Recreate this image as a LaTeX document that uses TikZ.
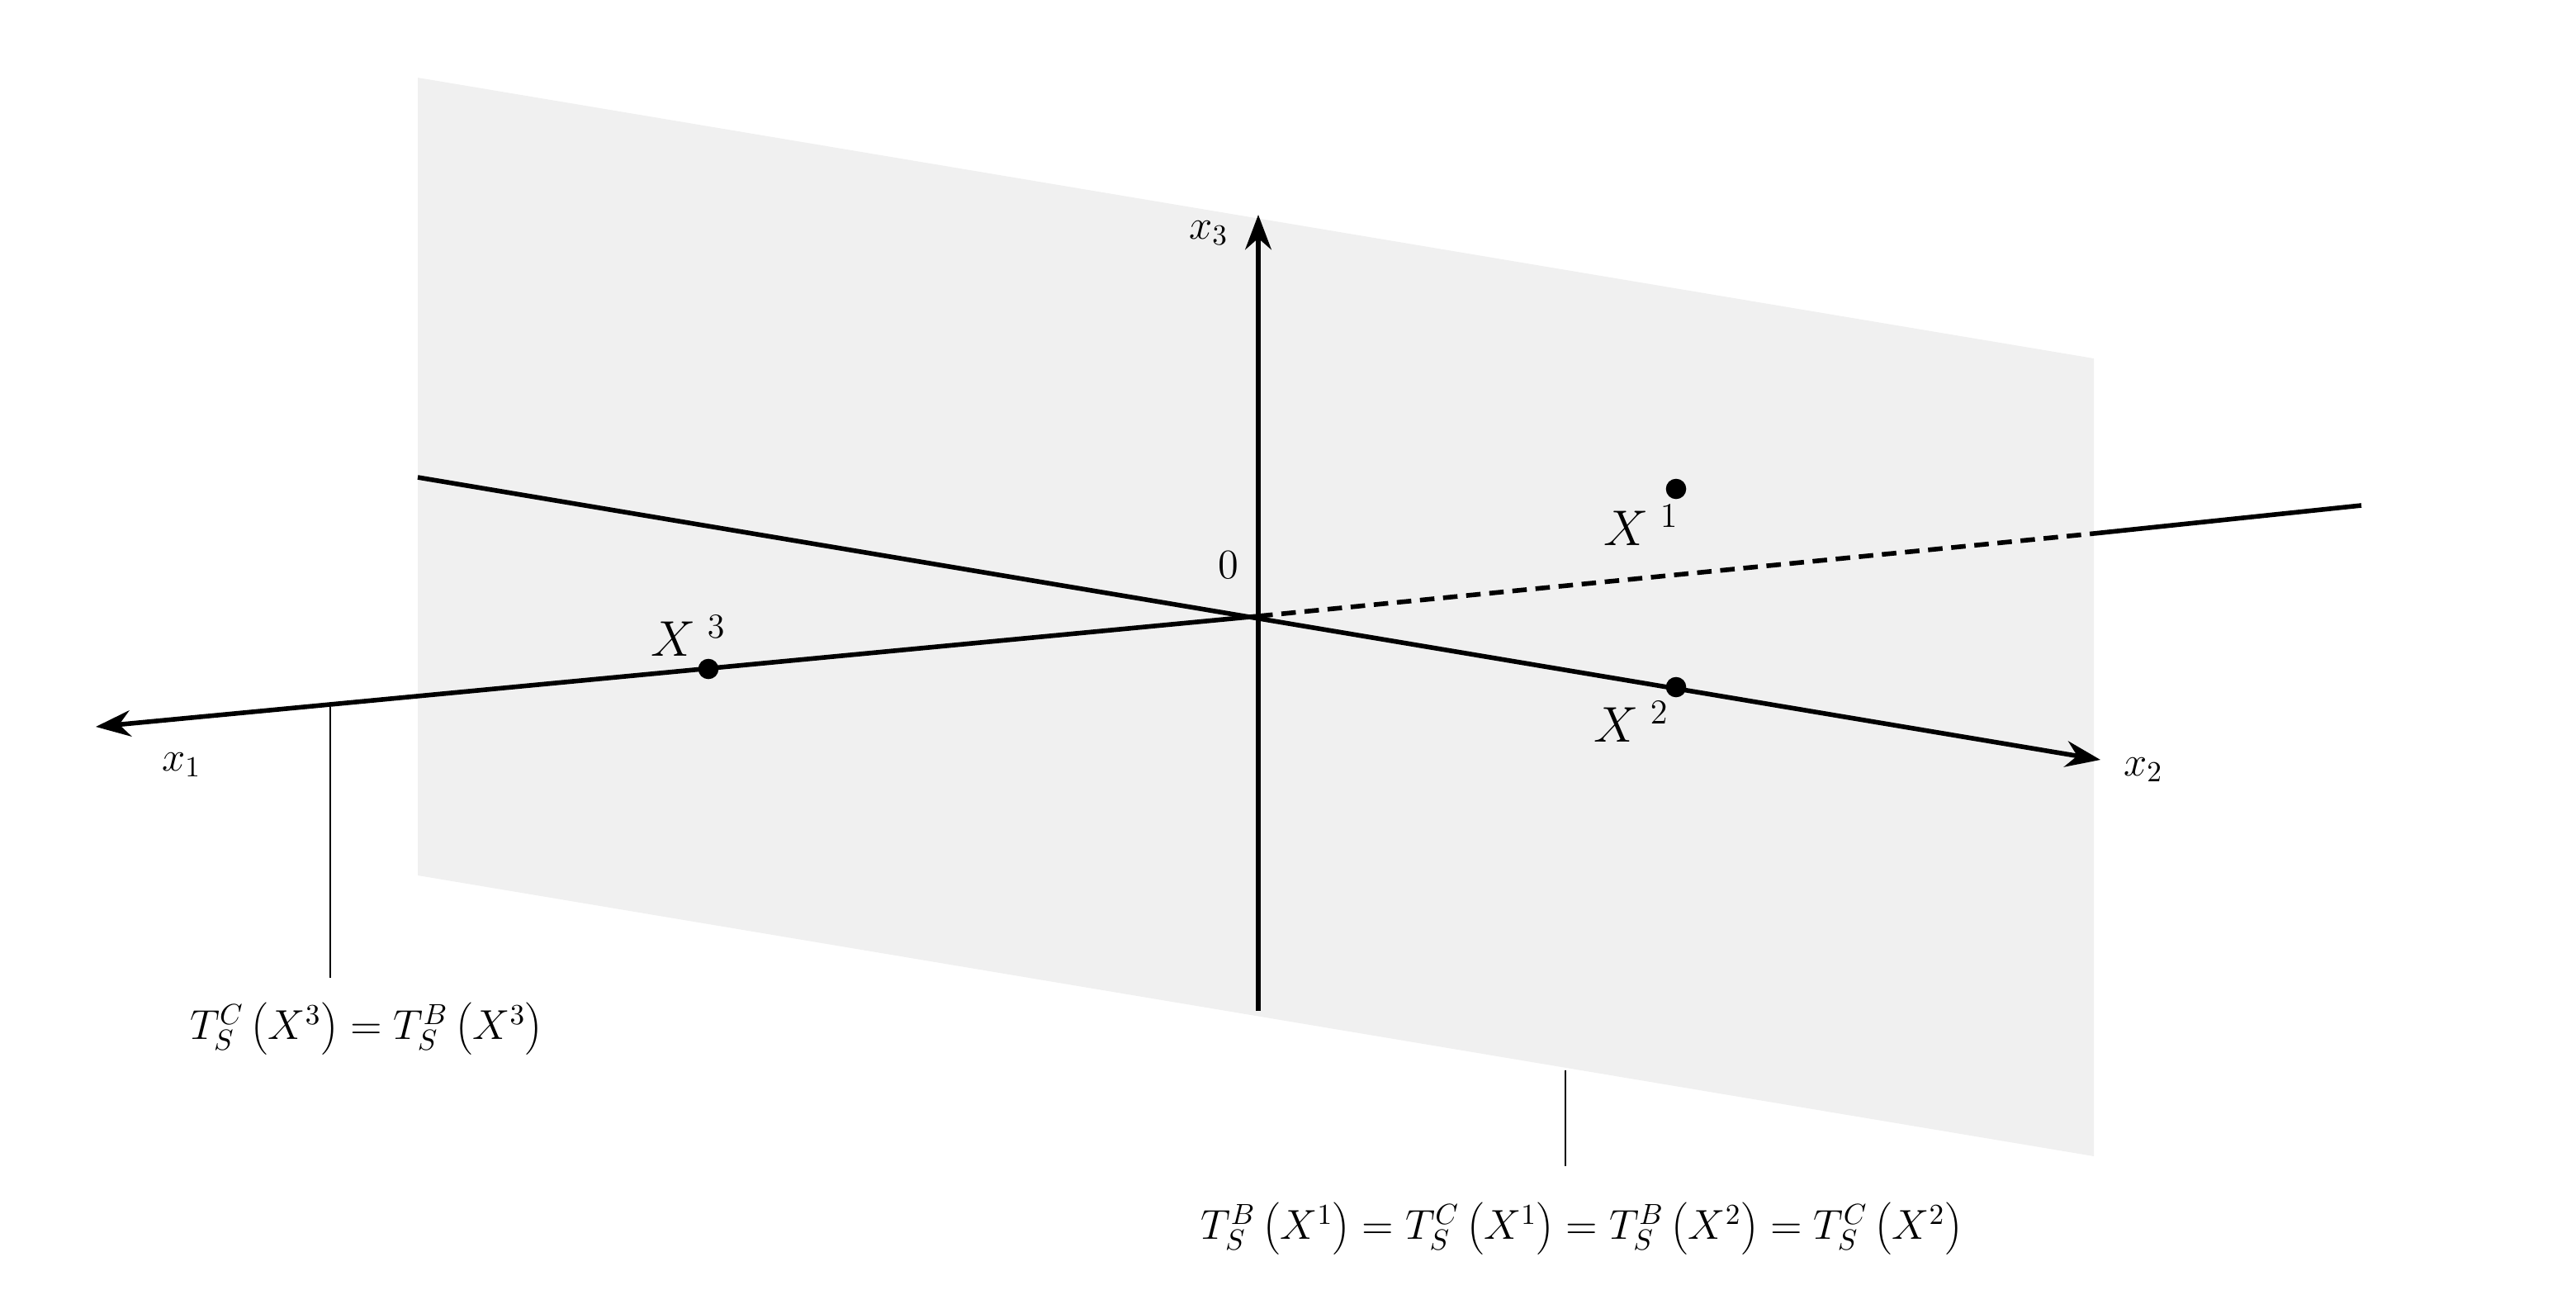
\documentclass[tikz,border=0pt]{standalone}
\usetikzlibrary{arrows.meta}
\begin{document}
\begin{tikzpicture}[x=0.02cm,y=-0.02cm,
  axis/.style={line width=1.6pt},
  arr/.style={-{Stealth[length=12pt,width=9pt]}},
  pt/.style={circle,fill=black,inner sep=0pt,minimum size=7pt},
  lbl/.style={font=\Large},
  lead/.style={line width=0.6pt}]
\useasboundingbox (0,0) rectangle (1560,792);
\fill[gray!12] (253,47) -- (1268,217) -- (1268,700) -- (253,530) -- cycle;
\coordinate (O) at (762,373);
\coordinate (x3e) at (762,130);
\coordinate (x3s) at (762,612);
\coordinate (x1e) at (58,440);
\coordinate (x2s) at (253,289);
\coordinate (x2e) at (1272,460);
\coordinate (dE) at (1268,323);
\coordinate (fE) at (1430,306);
\draw[axis,arr] (x3s) -- (x3e);
\draw[axis,arr] (O) -- (x1e);
\draw[axis,arr] (x2s) -- (x2e);
\draw[axis,dashed,dash pattern=on 5pt off 3pt] (O) -- (dE);
\draw[axis] (dE) -- (fE);
\node[lbl] (lx3) at (732,141) {$x_3$};
\node[lbl] (lx1) at (110,463) {$x_1$};
\node[lbl] (lx2) at (1298,466) {$x_2$};
\node[lbl] (l0) at (744,342) {$0$};
\node[pt] (p3) at (429,405) {};
\node[pt] (p2) at (1015,416) {};
\node[pt] (p1) at (1015,296) {};
\node[font=\LARGE] (L3) at (417,385) {$X^{\,\,3}$};
\node[font=\LARGE] (L2) at (988,437) {$X^{\,\,2}$};
\node[font=\LARGE] (L1) at (994,318) {$X^{\,\,1}$};
\coordinate (a1) at (200,428);
\coordinate (a2) at (200,592);
\coordinate (b1) at (948,648);
\coordinate (b2) at (948,706);
\draw[lead] (a1) -- (a2);
\draw[lead] (b1) -- (b2);
\node[lbl,anchor=center] (T1) at (222,623) {$T_S^C\left(X^3\right)=T_S^B\left(X^3\right)$};
\node[lbl,anchor=center] (T2) at (958,744) {$T_S^B\left(X^1\right)=T_S^C\left(X^1\right)=T_S^B\left(X^2\right)=T_S^C\left(X^2\right)$};
\end{tikzpicture}
\end{document}
